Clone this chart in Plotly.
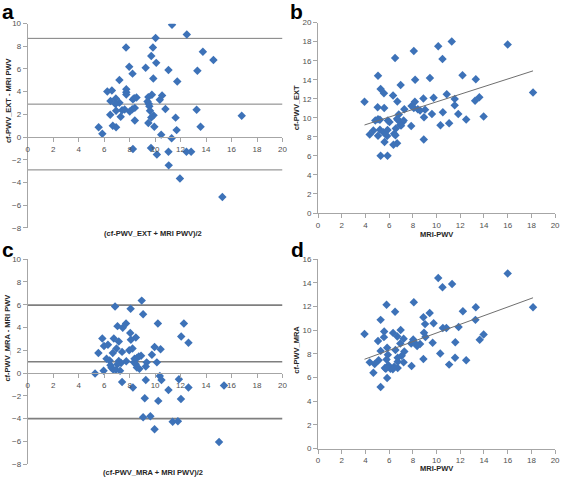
import numpy as np
import plotly.graph_objects as go

# ---------------- data ----------------
# Panel a: Bland-Altman cf-PWV_EXT vs MRI PWV
a_mean = [11.33, 12.49, 10.04, 7.72, 9.83, 13.75, 9.70, 14.58, 10.09, 7.97, 9.26, 11.05, 13.32, 8.23,
          9.86, 7.20, 11.74, 7.74, 6.25, 6.61, 7.74, 7.74, 9.75, 10.55, 6.50, 6.92, 7.20, 8.26, 8.36,
          8.54, 9.47, 9.41, 10.37, 6.89, 9.50, 9.55, 10.81, 7.41, 6.94, 7.61, 8.01, 8.21, 8.41, 9.60,
          13.26, 6.48, 7.30, 9.70, 9.88, 11.61, 16.80, 8.41, 9.47, 6.68, 6.94, 5.57, 9.94, 11.69, 13.57,
          5.86, 10.48, 11.30, 8.26, 9.68, 11.05, 12.46, 12.83, 10.14, 11.07, 11.95, 15.28]
a_diff = [9.91, 9.05, 8.73, 7.90, 7.90, 7.52, 7.15, 6.80, 6.54, 6.20, 6.11, 5.91, 5.85, 5.59,
          5.16, 5.02, 4.90, 4.21, 4.01, 4.10, 3.95, 3.75, 3.72, 3.66, 3.17, 3.40, 3.03, 3.32, 3.43,
          3.49, 3.52, 3.14, 3.29, 2.91, 2.94, 2.71, 2.48, 2.37, 2.31, 2.43, 2.25, 2.45, 2.57, 2.31,
          2.40, 1.96, 1.79, 1.73, 1.91, 1.71, 1.88, 1.45, 1.24, 0.99, 0.87, 0.87, 0.90, 0.61, 0.90,
          0.29, 0.21, -0.11, -1.06, -0.97, -1.29, -1.29, -1.29, -1.55, -2.50, -3.65, -5.29]
a_limits = [8.7, 2.9, -2.9]

# Panel b: cf-PWV_EXT vs MRI-PWV
b_mri = [11.28, 10.14, 16.0, 8.08, 6.50, 10.5, 5.06, 12.19, 9.44, 8.19, 13.31, 6.97, 5.28, 5.56,
         6.33, 10.86, 18.14, 3.92, 6.69, 8.17, 8.89, 9.75, 11.53, 13.25, 13.61, 7.89, 5.03, 5.58,
         7.28, 8.08, 8.42, 8.61, 9.03, 11.53, 10.53, 9.61, 11.83, 8.94, 6.81, 6.67, 5.06, 13.97,
         4.83, 5.22, 5.89, 6.03, 6.72, 7.22, 7.14, 6.94, 12.5, 11.06, 10.33, 7.86, 7.0, 4.67, 5.22,
         5.5, 5.86, 6.56, 4.36, 5.06, 5.83, 6.42, 6.53, 8.92, 5.61, 6.36, 6.67, 5.28, 5.86]
b_ext = [18.01, 17.53, 17.70, 17.01, 16.29, 16.19, 14.43, 14.47, 14.19, 13.99, 14.06, 13.44, 13.02,
         12.58, 12.34, 12.47, 12.65, 11.68, 11.72, 11.68, 12.03, 12.10, 11.99, 11.79, 12.16, 11.24,
         11.10, 11.03, 10.89, 11.03, 10.89, 10.76, 10.86, 11.31, 10.58, 10.41, 10.41, 10.07, 10.34,
         9.90, 9.86, 10.14, 9.73, 9.79, 9.73, 9.55, 9.79, 9.73, 9.55, 9.28, 9.83, 9.42, 9.21, 9.14,
         9.18, 8.66, 8.76, 8.49, 8.73, 8.87, 8.25, 8.11, 8.08, 8.32, 8.18, 7.73, 7.46, 7.18, 7.32,
         6.01, 6.01]

# Panel c: Bland-Altman cf-PWV_MRA vs MRI PWV
c_mean = [8.95, 6.86, 8.08, 9.06, 10.22, 12.26, 7.72, 7.05, 7.46, 8.05, 12.05, 8.49, 5.86, 6.76,
          8.10, 7.15, 12.62, 5.99, 6.30, 6.97, 8.23, 9.96, 10.43, 5.55, 6.68, 7.41, 7.97, 8.90, 9.75,
          6.19, 6.43, 7.15, 7.33, 8.39, 8.57, 8.72, 7.74, 7.05, 8.34, 8.49, 9.34, 10.14, 6.50, 6.58,
          6.71, 6.92, 8.57, 8.77, 9.27, 7.25, 5.96, 5.29, 10.37, 7.41, 9.27, 10.50, 11.87, 8.26,
          12.62, 15.41, 11.05, 9.19, 10.25, 12.03, 9.06, 9.63, 11.38, 11.79, 9.96, 15.02]
c_diff = [6.36, 5.84, 5.64, 5.16, 4.35, 4.35, 4.35, 4.12, 3.98, 3.52, 3.21, 3.12, 3.04, 3.04,
          2.92, 2.78, 2.66, 2.38, 2.49, 2.15, 2.15, 2.29, 2.09, 1.77, 1.77, 1.86, 2.00, 1.52, 1.60,
          1.26, 1.11, 1.06, 0.89, 1.26, 1.32, 1.46, 1.03, 0.77, 0.94, 0.77, 0.94, 0.94, 0.68, 0.46,
          0.31, 0.28, 0.48, 0.37, 0.57, 0.20, 0.20, -0.03, -0.26, -0.78, -0.60, -0.60, -0.55, -1.26,
          -1.26, -1.09, -1.49, -2.21, -2.44, -2.27, -3.87, -3.79, -4.27, -4.22, -4.93, -6.05]
c_limits = [5.96, 1.0, -4.0]

# Panel d: cf-PWV_MRA vs MRI-PWV
d_mri = [16.0, 10.14, 11.31, 10.5, 8.08, 5.78, 6.5, 12.22, 13.31, 18.14, 9.42, 5.28, 8.89, 9.75,
         9.03, 13.28, 10.53, 10.83, 11.86, 6.97, 3.92, 5.58, 6.33, 8.94, 6.69, 5.56, 13.97, 5.06,
         7.22, 9.06, 8.03, 13.64, 9.67, 11.58, 7.86, 6.94, 8.17, 8.61, 8.36, 5.83, 6.53, 7.28, 5.28,
         10.31, 5.89, 7.06, 6.72, 5.78, 11.56, 8.89, 4.36, 5.11, 6.72, 7.22, 12.5, 4.78, 11.06, 5.94,
         5.64, 6.42, 6.72, 6.11, 5.72, 7.89, 4.67, 6.31, 5.83, 5.28]
d_mra = [14.79, 14.40, 13.90, 13.63, 12.36, 12.14, 11.56, 11.59, 11.94, 11.94, 11.45, 10.87, 11.09,
         10.59, 10.51, 10.87, 10.18, 10.18, 10.26, 10.01, 9.68, 9.88, 9.77, 9.79, 9.46, 9.41, 9.63,
         9.08, 9.27, 9.43, 9.21, 9.19, 8.94, 8.97, 8.88, 8.88, 8.91, 8.83, 8.66, 8.52, 8.33, 8.19,
         8.25, 8.03, 7.92, 7.83, 7.67, 7.53, 7.67, 7.56, 7.28, 7.45, 7.34, 7.28, 7.45, 7.14, 7.09,
         7.03, 6.81, 6.90, 6.81, 6.73, 6.73, 6.98, 6.40, 6.70, 5.96, 5.19]

x_range = [0, 20]
ba_range = [-8, 10]
b_range = [0, 20]
d_range = [0, 16]

# ---------------- layout helpers ----------------
W, H = 567, 481
def fx(p):
    return p / W
def fy(p):
    return 1 - p / H

MARK = dict(symbol='diamond', size=6.5, color='#3D72B8', line=dict(width=0))
LINE_C = '#7f7f7f'

fig = go.Figure()

def scatter(x, y, ax):
    fig.add_trace(go.Scatter(x=x, y=y, mode='markers', marker=MARK,
                             xaxis='x' + ax, yaxis='y' + ax, hoverinfo='x+y'))

def hlines(vals, ax, width):
    for v in vals:
        fig.add_trace(go.Scatter(x=x_range, y=[v, v], mode='lines',
                                 line=dict(color=LINE_C, width=width),
                                 xaxis='x' + ax, yaxis='y' + ax, hoverinfo='skip'))

def trend(x, y, ax):
    k, b = np.polyfit(x, y, 1)
    xs = np.array([min(x), max(x)])
    fig.add_trace(go.Scatter(x=xs, y=k * xs + b, mode='lines',
                             line=dict(color='#6f6f6f', width=1),
                             xaxis='x' + ax, yaxis='y' + ax, hoverinfo='skip'))

hlines(a_limits, '', 1)
scatter(a_mean, a_diff, '')
scatter(b_mri, b_ext, '2')
trend(b_mri, b_ext, '2')
hlines(c_limits, '3', 1.6)
scatter(c_mean, c_diff, '3')
scatter(d_mri, d_mra, '4')
trend(d_mri, d_mra, '4')

def ax_common(rng, dtick=2):
    return dict(range=rng, dtick=dtick, tick0=0, showline=True, linecolor='#a6a6a6', linewidth=1,
                ticks='outside', ticklen=4, tickcolor='#a6a6a6', tickwidth=1,
                showgrid=False, zeroline=False, fixedrange=True,
                tickfont=dict(family='Liberation Sans', size=8, color='#505050'))

# panel geometry (pixels)
left_x = (26, 284)
right_x = (320, 560)
a_y = (20, 228)
b_y = (19, 213)
c_y = (260, 469)
d_y = (260, 453)

def zero_pos(ypix, rng):
    bot, top = fy(ypix[1]), fy(ypix[0])
    return bot + (0 - rng[0]) / (rng[1] - rng[0]) * (top - bot)

layout = dict(width=W, height=H, margin=dict(l=0, r=0, t=0, b=0),
              paper_bgcolor='white', plot_bgcolor='white', showlegend=False,
              font=dict(family='Liberation Sans'))

layout['xaxis'] = dict(ax_common(x_range), domain=[fx(left_x[0]), fx(left_x[1])],
                       anchor='free', position=zero_pos(a_y, ba_range))
layout['yaxis'] = dict(ax_common(ba_range), domain=[fy(a_y[1]), fy(a_y[0])], anchor='x')
layout['xaxis2'] = dict(ax_common(x_range), domain=[fx(right_x[0]), fx(right_x[1])], anchor='y2')
layout['yaxis2'] = dict(ax_common(b_range), domain=[fy(b_y[1]), fy(b_y[0])], anchor='x2')
layout['xaxis3'] = dict(ax_common(x_range), domain=[fx(left_x[0]), fx(left_x[1])],
                        anchor='free', position=zero_pos(c_y, ba_range))
layout['yaxis3'] = dict(ax_common(ba_range), domain=[fy(c_y[1]), fy(c_y[0])], anchor='x3')
layout['xaxis4'] = dict(ax_common(x_range), domain=[fx(right_x[0]), fx(right_x[1])], anchor='y4')
layout['yaxis4'] = dict(ax_common(d_range), domain=[fy(d_y[1]), fy(d_y[0])], anchor='x4')

TF = dict(family='Liberation Sans', size=7.5, color='#262626')
ann = []
def title(text, xp, yp, angle=0):
    ann.append(dict(text='<b>' + text + '</b>', x=fx(xp), y=fy(yp), xref='paper', yref='paper',
                    showarrow=False, textangle=angle, font=TF, xanchor='center', yanchor='middle'))

title('(cf-PWV_EXT + MRI PWV)/2', 153, 234)
title('cf-PWV_EXT - MRI PWV', 6, 98, -90)
title('MRI-PWV', 440, 235)
title('cf-PWV_EXT', 298, 106, -90)
title('(cf-PWV_MRA + MRI PWV)/2', 153, 477)
title('cf-PWV_MRA - MRI PWV', 6, 340, -90)
title('MRI-PWV', 440, 473)
title('cf-PWV_MRA', 298, 352, -90)

LF = dict(family='Liberation Sans', size=21, color='black')
for letter, xp, yp in [('a', 6, 8), ('b', 298, 8), ('c', 6, 250), ('d', 299, 250)]:
    ann.append(dict(text='<b>' + letter + '</b>', x=fx(xp), y=fy(yp), xref='paper', yref='paper',
                    showarrow=False, font=LF, xanchor='center', yanchor='middle'))
layout['annotations'] = ann

fig.update_layout(**layout)
fig.write_html("out.html", config={'displayModeBar': False},
               post_script="document.body.style.margin='0';document.body.style.padding='0';")
